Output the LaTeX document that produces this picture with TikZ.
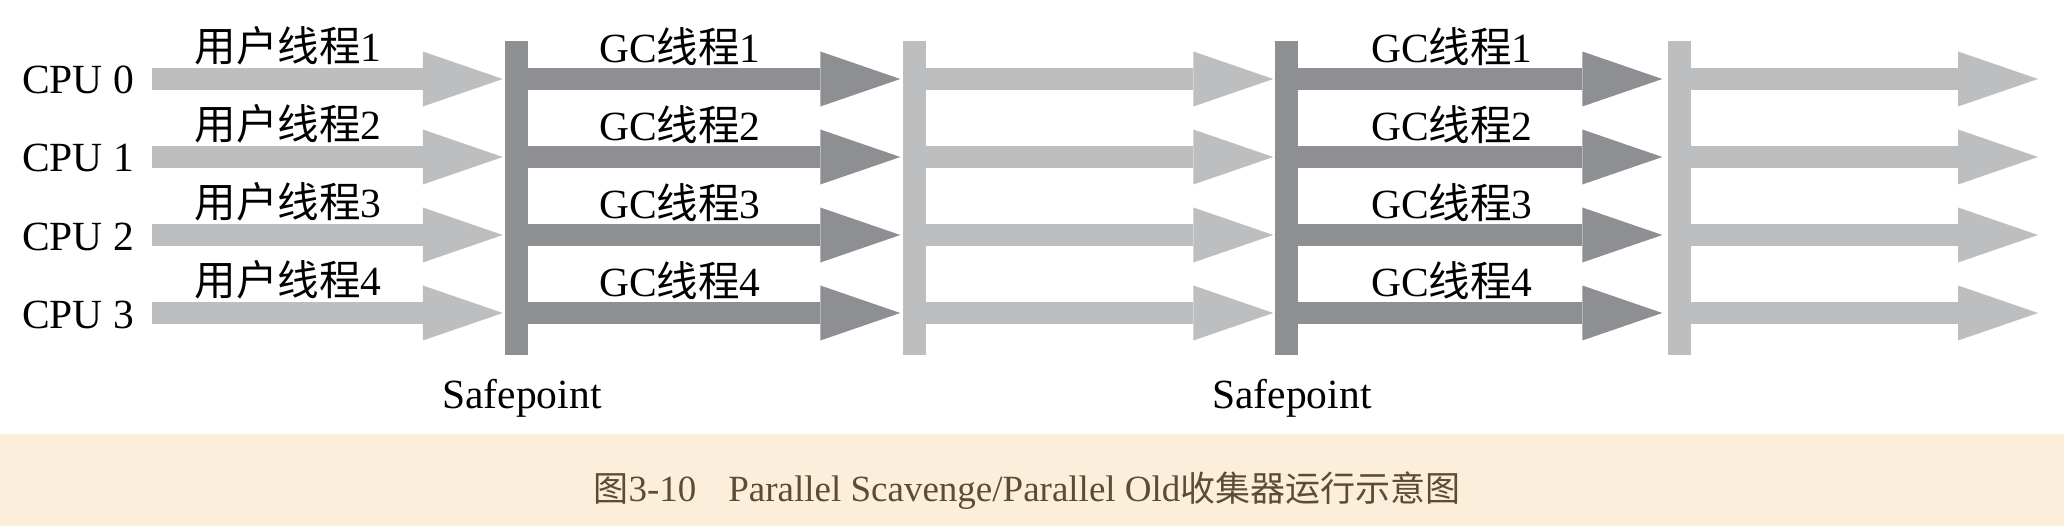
\documentclass[tikz,border=0pt]{standalone}
\usepackage{fontspec}
\setmainfont{Liberation Serif}
\newfontfamily\cjk{Noto Sans CJK SC}
\usetikzlibrary{arrows.meta}
\definecolor{lightg}{HTML}{BDBEC0}
\definecolor{darkg}{HTML}{8E8F92}
\definecolor{beige}{HTML}{FBEFDC}
\definecolor{captxt}{HTML}{5E4B34}
\begin{document}
\begin{tikzpicture}[x=1pt,y=-1pt,
  lbl/.style={font=\fontsize{41.5}{48}\selectfont, inner sep=0pt, text=black},
  barbox/.style={rectangle, inner sep=0pt, minimum width=23pt, minimum height=314pt},
  thr/.style={line width=22pt, -{Triangle[length=80pt,width=55pt,line width=0pt]}}]
\useasboundingbox (0,0) rectangle (2064,526);
\fill[white] (0,0) rectangle (2064,434);
\fill[beige] (0,434) rectangle (2064,526);
% safepoint bars
\node[barbox, fill=darkg]  (b1) at (516.5,198) {};
\node[barbox, fill=lightg] (b2) at (914,198) {};
\node[barbox, fill=darkg]  (b3) at (1286,198) {};
\node[barbox, fill=lightg] (b4) at (1679,198) {};
% rows
\foreach \i/\y in {1/79,2/157,3/235,4/313}{
  \coordinate (u\i) at (152,\y);
  \coordinate (e\i) at (2038,\y);
  \draw[thr, lightg] (u\i) -- ([xshift=-2pt]b1.west |- u\i);
  \draw[thr, darkg] (b1.east |- u\i) -- ([xshift=-2pt]b2.west |- u\i);
  \draw[thr, lightg] (b2.east |- u\i) -- ([xshift=-1pt]b3.west |- u\i);
  \draw[thr, darkg] (b3.east |- u\i) -- ([xshift=-5pt]b4.west |- u\i);
  \draw[thr, lightg] (b4.east |- u\i) -- (e\i);
}
% CPU labels
\node[lbl, anchor=west] (cpu0) at (22,80) {CPU 0};
\node[lbl, anchor=west] (cpu1) at (22,158) {CPU 1};
\node[lbl, anchor=west] (cpu2) at (22,237) {CPU 2};
\node[lbl, anchor=west] (cpu3) at (22,315) {CPU 3};
% user thread labels
\node[lbl] (ut1) at (288,46) {{\cjk 用户线程}1};
\node[lbl] (ut2) at (288,124) {{\cjk 用户线程}2};
\node[lbl] (ut3) at (288,202) {{\cjk 用户线程}3};
\node[lbl] (ut4) at (288,280) {{\cjk 用户线程}4};
% GC thread labels, first group
\node[lbl] (ga1) at (680,47) {GC{\cjk 线程}1};
\node[lbl] (ga2) at (680,125) {GC{\cjk 线程}2};
\node[lbl] (ga3) at (680,203) {GC{\cjk 线程}3};
\node[lbl] (ga4) at (680,281) {GC{\cjk 线程}4};
% GC thread labels, second group
\node[lbl] (gb1) at (1452,47) {GC{\cjk 线程}1};
\node[lbl] (gb2) at (1452,125) {GC{\cjk 线程}2};
\node[lbl] (gb3) at (1452,203) {GC{\cjk 线程}3};
\node[lbl] (gb4) at (1452,281) {GC{\cjk 线程}4};
% safepoint labels
\node[lbl, anchor=base] (sp1) at (522,409) {Safepoint};
\node[lbl, anchor=base] (sp2) at (1292,409) {Safepoint};
% caption
\node[inner sep=0pt, text=captxt, font=\fontsize{37}{44}\selectfont] (cap) at (1027,491)
  {{\cjk\fontsize{35}{42}\selectfont 图}3-10\hspace{32pt}Parallel Scavenge/Parallel Old{\cjk\fontsize{35}{42}\selectfont 收集器运行示意图}};
\end{tikzpicture}
\end{document}
